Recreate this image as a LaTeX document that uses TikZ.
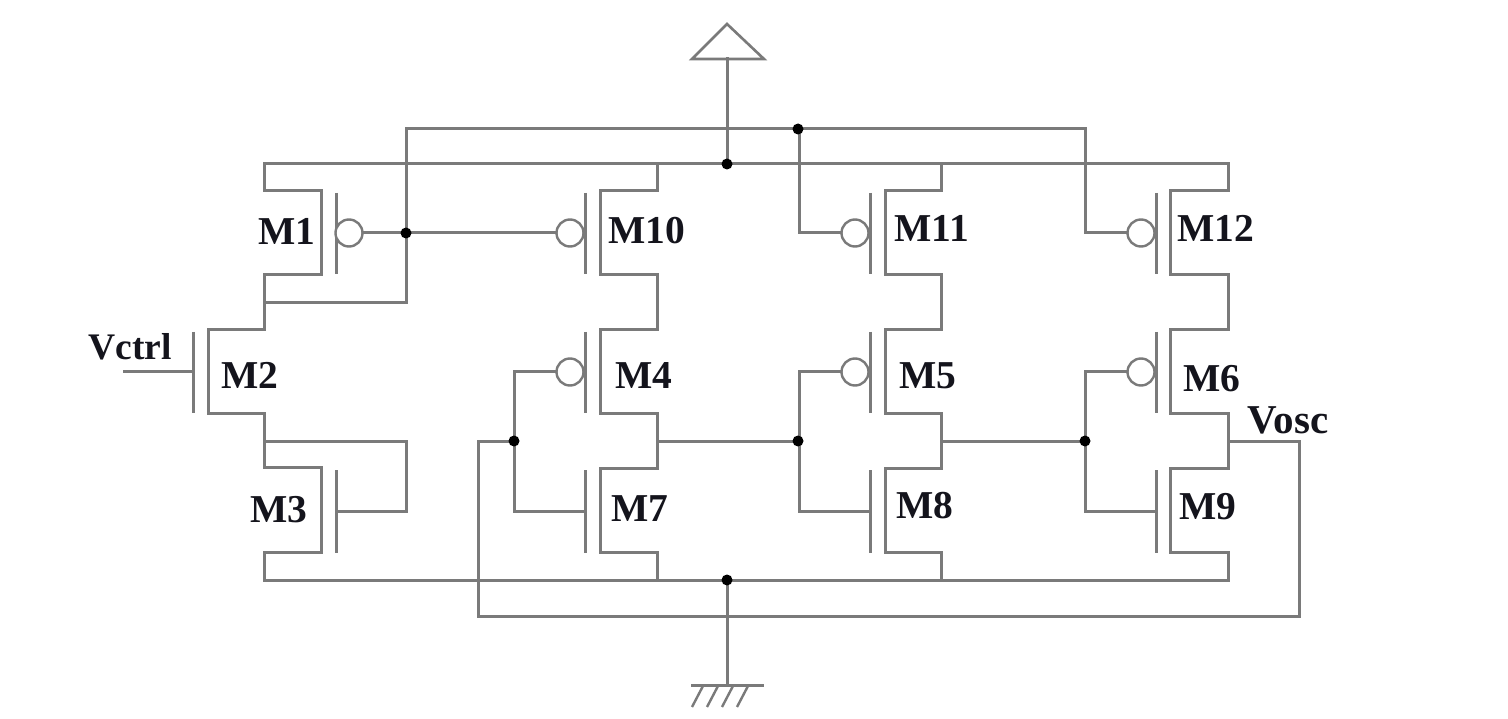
\documentclass[tikz,border=0pt]{standalone}
\usepackage{fontspec}
\setmainfont{Liberation Serif}
\definecolor{wirecol}{HTML}{7A7A7A}
\definecolor{labelcol}{HTML}{14141C}
\tikzset{
  wire/.style={draw=wirecol,line width=3pt,line join=miter,line cap=rect},
  gatebar/.style={draw=wirecol,line width=3pt,line cap=butt},
  bubble/.style={circle,draw=wirecol,line width=2.4pt,fill=white,minimum size=27pt,inner sep=0pt},
  junction/.style={circle,fill=black,minimum size=11pt,inner sep=0pt},
  lab/.style={text=labelcol,inner sep=0pt,font=\fontsize{39.5}{39.5}\selectfont\bfseries},
}
\begin{document}
\begin{tikzpicture}[x=1pt,y=-1pt]
\useasboundingbox (0,0) rectangle (1508,719);
\fill[white] (0,0) rectangle (1508,719);

% junctions
\coordinate (vddtop) at (727,59);
\coordinate (gndbar) at (727,685);
\coordinate (railTL) at (264,164);
\coordinate (railTR) at (1228,164);
\coordinate (railBL) at (264,580);
\coordinate (railBR) at (1228,580);

% supply symbol and stem
\draw[wire,line width=2.6pt,line join=miter] (692,59) -- (727,24) -- (764,59) -- cycle;
\draw[wire] (railTL) -- (railTR);
\draw[wire] (railBL) -- (railBR);

% gate bias bus
\coordinate (busL) at (406,129);
\coordinate (busR) at (1085,129);
\draw[wire] (264,303) -| (busL) -- (busR) |- (1127,233);
\draw[wire] (799,129) |- (841,233);

% left branch M1 M2 M3
\draw[wire] (railTL) -- (264,191) -- (321,191) -- (321,275) -- (264,275) -- (264,330)
  -- (208,330) -- (208,413) -- (264,413) -- (264,467) -- (321,467) -- (321,552)
  -- (264,552) -- (railBL);
\draw[gatebar] (336,193) -- (336,274);
\draw[gatebar] (193,332) -- (193,413);
\draw[gatebar] (336,470) -- (336,553);
\draw[wire] (124,372) -- (193,372);
\draw[wire] (264,441) -- (406,441) -- (406,511) -- (336,511);

% oscillator columns
\foreach \bar/\chan/\drop in {585/600/657, 870/885/941, 1156/1170/1228}{
  \draw[wire] (\drop,164) -- (\drop,191) -- (\chan,191) -- (\chan,275) -- (\drop,275) -- (\drop,330)
    -- (\chan,330) -- (\chan,413) -- (\drop,413) -- (\drop,468) -- (\chan,468) -- (\chan,552)
    -- (\drop,552) -- (\drop,580);
  \draw[gatebar] (\bar,193) -- (\bar,274);
  \draw[gatebar] (\bar,332) -- (\bar,413);
  \draw[gatebar] (\bar,470) -- (\bar,553);
}

% gate wiring of inverters
\draw[wire] (556,372) -| (514,511) -- (585,511);
\draw[wire] (841,372) -| (799,511) -- (870,511);
\draw[wire] (1127,372) -| (1085,511) -- (1156,511);
\draw[wire] (657,441) -- (799,441);
\draw[wire] (941,441) -- (1085,441);
\draw[wire] (514,441) -- (478,441) -- (478,616) -- (1299,616) -- (1299,441) -- (1228,441);
\draw[wire] (336,233) -- (556,233);

% supply and ground stems
\draw[wire] (vddtop) -- (727,164);
\draw[wire] (727,580) -- (gndbar);
\draw[wire] (692,685) -- (762,685);
\foreach \h in {703,718,733,748}{
  \draw[draw=wirecol,line width=2.4pt] (\h,686) -- (\h-11,707);
}

% PMOS bubbles
\node[bubble] (b1) at (349,233) {};
\node[bubble] (b10) at (570,233) {};
\node[bubble] (b11) at (855,233) {};
\node[bubble] (b12) at (1141,233) {};
\node[bubble] (b4) at (570,372) {};
\node[bubble] (b5) at (855,372) {};
\node[bubble] (b6) at (1141,372) {};

% dots
\node[junction] (j1) at (798,129) {};
\node[junction] (j2) at (727,164) {};
\node[junction] (j3) at (406,233) {};
\node[junction] (j4) at (514,441) {};
\node[junction] (j5) at (798,441) {};
\node[junction] (j6) at (1085,441) {};
\node[junction] (j7) at (727,580) {};

% labels
\node[lab] (M1) at (287,231) {M1};
\node[lab] (M10) at (647,231) {M10};
\node[lab] (M11) at (932,228) {M11};
\node[lab] (M12) at (1216,228) {M12};
\node[lab] (M2) at (250,375) {M2};
\node[lab] (M3) at (279,510) {M3};
\node[lab] (M4) at (644,376) {M4};
\node[lab] (M5) at (928,376) {M5};
\node[lab] (M6) at (1212,379) {M6};
\node[lab] (M7) at (640,509) {M7};
\node[lab] (M8) at (925,506) {M8};
\node[lab] (M9) at (1208,507) {M9};
\node[lab,font=\fontsize{37.5}{37.5}\selectfont\bfseries] (Vctrl) at (130,347) {Vctrl};
\node[lab,font=\fontsize{41}{41}\selectfont\bfseries] (Vosc) at (1288,420) {Vosc};
\end{tikzpicture}
\end{document}
